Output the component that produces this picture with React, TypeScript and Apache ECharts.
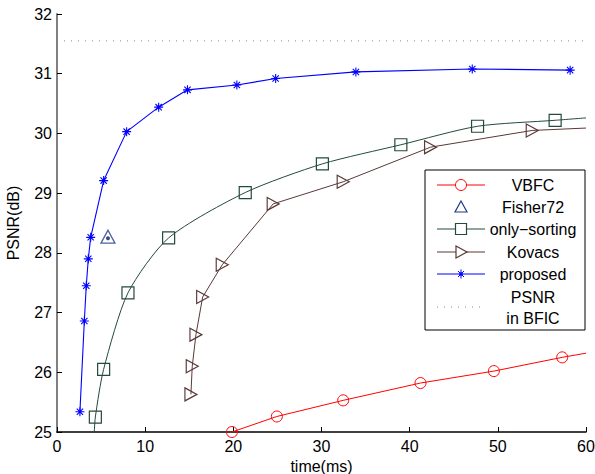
import React, { useEffect, useRef } from "react";
import * as echarts from "echarts";

const vbfcX = [18.5, 19.84, 24.94, 32.46, 41.23, 49.55, 57.3, 60];
const vbfcY = [24.93, 25.0, 25.26, 25.53, 25.82, 26.02, 26.25, 26.32];
const vbfcMarked = [false, true, true, true, true, true, true, false];

const fisherX = [5.78];
const fisherY = [28.27];

const sortX = [4.2, 4.35, 5.29, 8.05, 12.66, 21.35, 30.1, 39.0, 47.7, 56.5, 60];
const sortY = [24.9, 25.25, 26.05, 27.33, 28.25, 29.01, 29.49, 29.81, 30.12, 30.22, 30.26];
const sortMarked = [false, true, true, true, true, true, true, true, true, true, false];

const kovX = [15.19, 15.34, 15.76, 16.52, 18.74, 24.52, 32.46, 42.37, 53.9, 60];
const kovY = [25.63, 26.1, 26.63, 27.26, 27.8, 28.82, 29.19, 29.77, 30.05, 30.09];
const kovMarked = [true, true, true, true, true, true, true, true, true, false];

const propX = [2.6, 3.1, 3.32, 3.55, 3.82, 5.29, 7.9, 11.53, 14.8, 20.4, 24.8, 33.9, 47.1, 58.2];
const propY = [25.34, 26.86, 27.45, 27.9, 28.26, 29.21, 30.03, 30.44, 30.73, 30.81, 30.92, 31.03, 31.08, 31.06];

const bficX = [0, 60];
const bficY = [31.55, 31.55];

const seriesNames = ["VBFC", "Fisher72", "only\u2212sorting", "Kovacs", "proposed", "PSNR\nin BFIC"];

const FONT = "Liberation Sans, Arial, Helvetica, sans-serif";
const ASTERISK = "path://M0,-10L0,10M-10,0L10,0M-7,-7L7,7M-7,7L7,-7";

const RED = "#ff0000";
const NAVY = "#1f3a8a";
const GREEN = "#234a3a";
const BROWN = "#5a3838";
const BLUE = "#0000ff";
const GRAY = "#888888";

function pts(xs: number[], ys: number[], marked?: boolean[]) {
  return xs.map((x, i) =>
    marked && !marked[i] ? { value: [x, ys[i]], symbol: "none" } : { value: [x, ys[i]] }
  );
}

function legendGraphic() {
  const bx = 425, by = 170, bw = 160, bh = 160;
  const lx1 = 437, lx2 = 485, mx = 461, tx = 533;
  const rows = [185, 207, 229, 252, 274];
  const els: any[] = [
    { type: "rect", shape: { x: bx, y: by, width: bw, height: bh }, style: { fill: "#fff", stroke: "#000", lineWidth: 1 } },
  ];
  const txt = (t: string, y: number) => ({
    type: "text",
    x: tx,
    y,
    style: { text: t, fill: "#000", font: `16px ${FONT}`, align: "center", verticalAlign: "middle" },
  });
  const ln = (y: number, color: string, dash?: number[]) => ({
    type: "line",
    shape: { x1: lx1, y1: y, x2: lx2, y2: y },
    style: { stroke: color, lineWidth: 1, lineDash: dash },
  });
  els.push(ln(rows[0], RED));
  els.push({ type: "circle", shape: { cx: mx, cy: rows[0], r: 5.5 }, style: { fill: "#fff", stroke: RED, lineWidth: 1 } });
  els.push(txt(seriesNames[0], rows[0]));
  els.push({ type: "polygon", shape: { points: [[mx, rows[1] - 6], [mx + 6, rows[1] + 5], [mx - 6, rows[1] + 5]] }, style: { fill: "none", stroke: NAVY, lineWidth: 1.2 } });
  els.push(txt(seriesNames[1], rows[1]));
  els.push(ln(rows[2], GREEN));
  els.push({ type: "rect", shape: { x: mx - 5.5, y: rows[2] - 5.5, width: 11, height: 11 }, style: { fill: "#fff", stroke: GREEN, lineWidth: 1.2 } });
  els.push(txt(seriesNames[2], rows[2]));
  els.push(ln(rows[3], BROWN));
  els.push({ type: "polygon", shape: { points: [[mx - 5, rows[3] - 6], [mx + 6, rows[3]], [mx - 5, rows[3] + 6]] }, style: { fill: "#fff", stroke: BROWN, lineWidth: 1.2 } });
  els.push(txt(seriesNames[3], rows[3]));
  els.push(ln(rows[4], BLUE));
  const c = rows[4];
  els.push({ type: "line", shape: { x1: mx, y1: c - 4.5, x2: mx, y2: c + 4.5 }, style: { stroke: BLUE, lineWidth: 1 } });
  els.push({ type: "line", shape: { x1: mx - 3, y1: c - 3, x2: mx + 3, y2: c + 3 }, style: { stroke: BLUE, lineWidth: 1 } });
  els.push({ type: "line", shape: { x1: mx - 3, y1: c + 3, x2: mx + 3, y2: c - 3 }, style: { stroke: BLUE, lineWidth: 1 } });
  els.push({ type: "circle", shape: { cx: mx, cy: c, r: 1.8 }, style: { fill: BLUE } });
  els.push(txt(seriesNames[4], rows[4]));
  els.push(ln(307, GRAY, [1, 6]));
  const [l1, l2] = seriesNames[5].split("\n");
  els.push(txt(l1, 297));
  els.push(txt(l2, 318));
  return { type: "group", z: 100, children: els };
}

export default function App() {
  const ref = useRef<HTMLDivElement>(null);
  useEffect(() => {
    if (!ref.current) return;
    const chart = echarts.init(ref.current, undefined, { renderer: "svg" });
    chart.setOption({
      animation: false,
      backgroundColor: "#ffffff",
      textStyle: { fontFamily: FONT },
      grid: { left: 57, right: 9, top: 14, bottom: 42, containLabel: false, outerBoundsMode: "none" },
      xAxis: {
        type: "value",
        min: 0,
        max: 60,
        interval: 10,
        name: "time(ms)",
        nameLocation: "middle",
        nameGap: 25,
        nameTextStyle: { fontSize: 16, color: "#000", fontFamily: FONT },
        axisLine: { show: true, onZero: false, lineStyle: { color: "#000", width: 1.5 } },
        axisTick: { show: true, inside: true, length: 5, lineStyle: { color: "#000" } },
        axisLabel: { fontSize: 16, color: "#000", margin: 6, fontFamily: FONT },
        splitLine: { show: false },
      },
      yAxis: {
        type: "value",
        min: 25,
        max: 32,
        interval: 1,
        name: "PSNR(dB)",
        nameLocation: "middle",
        nameGap: 36,
        nameTextStyle: { fontSize: 16, color: "#000", fontFamily: FONT },
        axisLine: { show: true, onZero: false, lineStyle: { color: "#808080", width: 2 } },
        axisTick: { show: true, inside: true, length: 5, lineStyle: { color: "#000" } },
        axisLabel: { fontSize: 16, color: "#000", margin: 5, fontFamily: FONT },
        splitLine: { show: false },
      },
      graphic: [legendGraphic()],
      series: [
        {
          name: seriesNames[0],
          type: "line",
          data: pts(vbfcX, vbfcY, vbfcMarked),
          symbol: "circle",
          symbolSize: 11,
          lineStyle: { color: RED, width: 1 },
          itemStyle: { color: "transparent", borderColor: RED, borderWidth: 1 },
          z: 3,
        },
        {
          name: seriesNames[1],
          type: "scatter",
          data: pts(fisherX, fisherY),
          symbol: "triangle",
          symbolSize: [14, 13],
          itemStyle: { color: "transparent", borderColor: NAVY, borderWidth: 1.3 },
          z: 3,
        },
        {
          name: "Fisher72 dot",
          type: "scatter",
          data: pts(fisherX, fisherY),
          symbol: "circle",
          symbolSize: 4,
          symbolOffset: [0, 1.5],
          itemStyle: { color: "#0a1a5a" },
          z: 4,
        },
        {
          name: seriesNames[2],
          type: "line",
          data: pts(sortX, sortY, sortMarked),
          smooth: 0.25,
          symbol: "rect",
          symbolSize: 12,
          lineStyle: { color: GREEN, width: 1 },
          itemStyle: { color: "transparent", borderColor: GREEN, borderWidth: 1.2 },
          z: 3,
        },
        {
          name: seriesNames[3],
          type: "line",
          data: pts(kovX, kovY, kovMarked),
          symbol: "triangle",
          symbolRotate: -90,
          symbolSize: [13, 12],
          lineStyle: { color: BROWN, width: 1 },
          itemStyle: { color: "transparent", borderColor: BROWN, borderWidth: 1.2 },
          z: 3,
        },
        {
          name: seriesNames[4],
          type: "line",
          data: pts(propX, propY),
          symbol: ASTERISK,
          symbolSize: 9,
          lineStyle: { color: BLUE, width: 1.1 },
          itemStyle: { color: "transparent", borderColor: BLUE, borderWidth: 1.1 },
          z: 3,
        },
        {
          name: seriesNames[5],
          type: "line",
          data: pts(bficX, bficY),
          symbol: "none",
          lineStyle: { color: GRAY, width: 1, type: [1, 6] },
          z: 2,
        },
      ],
    });
    return () => chart.dispose();
  }, []);
  return <div ref={ref} style={{ width: 595, height: 474, position: "absolute", left: 0, top: 0 }} />;
}
